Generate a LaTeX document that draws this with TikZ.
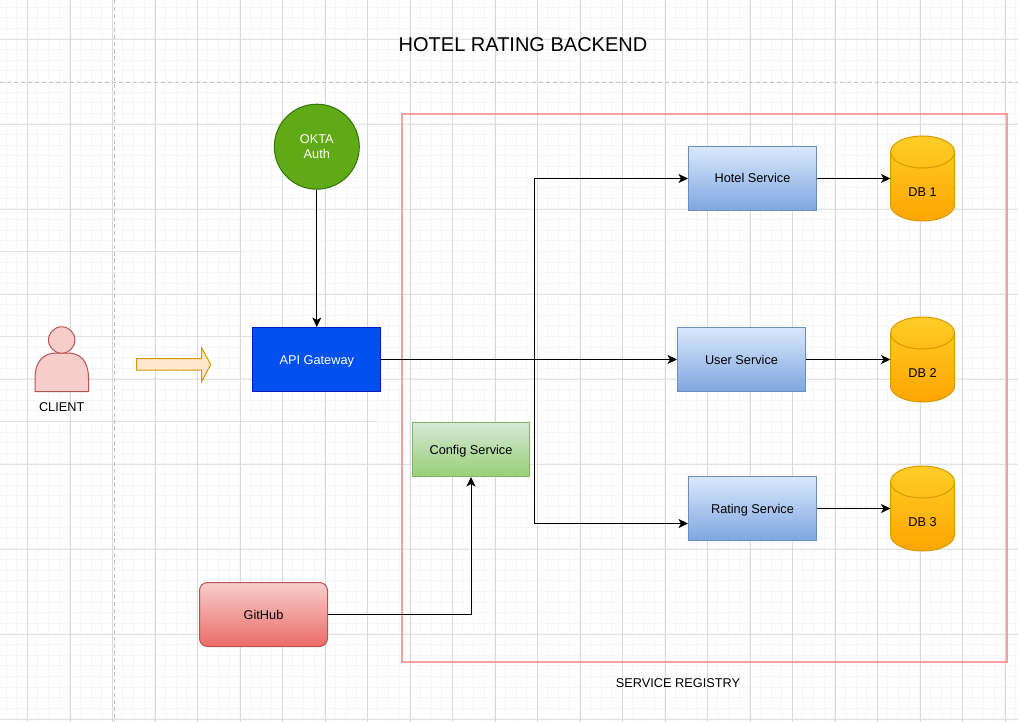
\documentclass[tikz,border=0pt]{standalone}
\usepackage{fontspec}
\setmainfont{Liberation Sans}
\usetikzlibrary{arrows.meta,calc}
\definecolor{gridminor}{HTML}{F6F6F6}
\definecolor{gridmajor}{HTML}{E2E2E2}
\definecolor{gridvert}{HTML}{D9D9D9}
\definecolor{pagebreak}{HTML}{C0C0C0}
\definecolor{oktagreen}{HTML}{60A917}
\definecolor{oktaedge}{HTML}{2D7600}
\definecolor{gateblue}{HTML}{0050EF}
\definecolor{gateedge}{HTML}{001DBC}
\definecolor{svctop}{HTML}{DAE8FC}
\definecolor{svcbot}{HTML}{7EA6E0}
\definecolor{svcedge}{HTML}{6C8EBF}
\definecolor{cfgtop}{HTML}{D5E8D4}
\definecolor{cfgbot}{HTML}{97D077}
\definecolor{cfgedge}{HTML}{82B366}
\definecolor{redtop}{HTML}{F8CECC}
\definecolor{redbot}{HTML}{EA6B66}
\definecolor{rededge}{HTML}{B85450}
\definecolor{dbtop}{HTML}{FFCD28}
\definecolor{dbbot}{HTML}{FFA500}
\definecolor{dbedge}{HTML}{D79B00}
\definecolor{arrowfill}{HTML}{FFE6CC}
\definecolor{registry}{HTML}{FA9E9E}
\tikzset{
  caption/.style={text height=10.2pt,text depth=1.2pt,inner sep=0pt},
  svcbox/.style={caption,draw=svcedge,top color=svctop,bottom color=svcbot,minimum width=128pt,minimum height=64pt},
  dbbox/.style={minimum width=64pt,minimum height=85pt,inner sep=0pt,outer sep=0pt},
  wire/.style={->,black},
}
\begin{document}
\begin{tikzpicture}[x=1pt,y=-1pt,line width=1pt,font=\fontsize{12.75}{15}\selectfont,>={Stealth[length=9.5pt,width=9pt,inset=2.5pt]}]
  \useasboundingbox (0,0) rectangle (1018,722);
  \fill[white] (0,0) rectangle (1018,722);

  % grid
  \foreach \i in {-2,...,95} {
    \draw[gridminor] ({floor(6.1+10.625*\i)+.5},0) -- ({floor(6.1+10.625*\i)+.5},722);
  }
  \foreach \i in {-3,...,68} {
    \draw[gridminor] (0,{floor(7.1+10.625*\i)+.5}) -- (1018,{floor(7.1+10.625*\i)+.5});
  }
  \foreach \y in {39.5,124.5,209.5,294.5,379.5,464.5,549.5,634.5,719.5} {
    \draw[gridmajor] (0,\y) -- (1018,\y);
  }
  \draw[gridmajor] (0,251.5) -- (244,251.5);
  \draw[gridmajor] (0,336.5) -- (253,336.5);
  \draw[gridmajor] (0,421.5) -- (376,421.5);
  \foreach \i in {0,...,23} {
    \draw[gridvert] ({floor(27.5+42.5*\i)+.5},0) -- ({floor(27.5+42.5*\i)+.5},722);
  }
  \draw[pagebreak,dash pattern=on 4pt off 3pt] (0,82.5) -- (1018,82.5);
  \draw[pagebreak,dash pattern=on 4pt off 3pt] (114.5,0) -- (114.5,722);

  \node[font=\fontsize{20}{24}\selectfont] (title) at (523,45) {HOTEL RATING BACKEND};

  \draw[registry,line width=1.3pt] (402,114) rectangle (1007,662);
  \node[caption] (regname) at (678,683) {SERVICE REGISTRY};

  % client
  \draw[rededge,fill=redtop] (35,391.5) -- (35,378)
    .. controls (35,361) and (44,353) .. (56,353) -- (68,353)
    .. controls (80,353) and (88.5,361) .. (88.5,378) -- (88.5,391.5) -- cycle;
  \draw[rededge,fill=redtop] (61.7,340) circle (13.2);
  \node[caption] (client) at (61.7,407) {CLIENT};
  \draw[dbedge,fill=arrowfill] (136.5,358.7) -- (201.7,358.7) -- (201.7,348)
    -- (210.7,364.5) -- (201.7,381.5) -- (201.7,370) -- (136.5,370) -- cycle;

  \node[circle,draw=oktaedge,fill=oktagreen,text=white,minimum size=85pt,inner sep=0pt,align=center] (okta) at (316.8,146.7) {OKTA\\Auth};
  \node[caption,draw=gateedge,fill=gateblue,text=white,minimum width=128pt,minimum height=64pt] (api) at (316.8,359.5) {API Gateway};
  \node[svcbox] (hotel) at (752.5,178.5) {Hotel Service};
  \node[svcbox] (user) at (741.5,359.5) {User Service};
  \node[svcbox] (rating) at (752.5,508.5) {Rating Service};
  \node[caption,draw=cfgedge,top color=cfgtop,bottom color=cfgbot,minimum width=117pt,minimum height=54pt] (config) at (471,449.5) {Config Service};
  \node[caption,draw=rededge,top color=redtop,bottom color=redbot,rounded corners=8pt,minimum width=128pt,minimum height=64pt] (github) at (263.5,614.5) {GitHub};

  % databases
  \foreach \n/\y in {1/178.5,2/359.5,3/508.5} {
    \node[dbbox] (db\n) at (922.5,\y) {};
    \draw[dbedge,top color=dbtop,bottom color=dbbot] ($(db\n.north west)+(0,16)$)
      arc[start angle=180,end angle=0,x radius=32pt,y radius=16pt]
      -- ($(db\n.south east)+(0,-16)$)
      arc[start angle=0,end angle=-180,x radius=32pt,y radius=16pt] -- cycle;
    \draw[dbedge] ($(db\n.north west)+(0,16)$)
      arc[start angle=180,end angle=360,x radius=32pt,y radius=16pt];
    \node[caption] (dbname\n) at ($(db\n.center)+(0,13.5)$) {DB \n};
  }

  \draw[wire] (okta) -- (api);
  \draw[wire] (api) -- (user);
  \draw[wire] (api.east) -- (534.5,359.5) |- (hotel.west);
  \draw[wire] (api.east) -- (534.5,359.5) |- ([yshift=-15pt]rating.west);
  \draw[wire] (hotel) -- (db1);
  \draw[wire] (user) -- (db2);
  \draw[wire] (rating) -- (db3);
  \draw[wire] (github) -| (config);
\end{tikzpicture}
\end{document}
